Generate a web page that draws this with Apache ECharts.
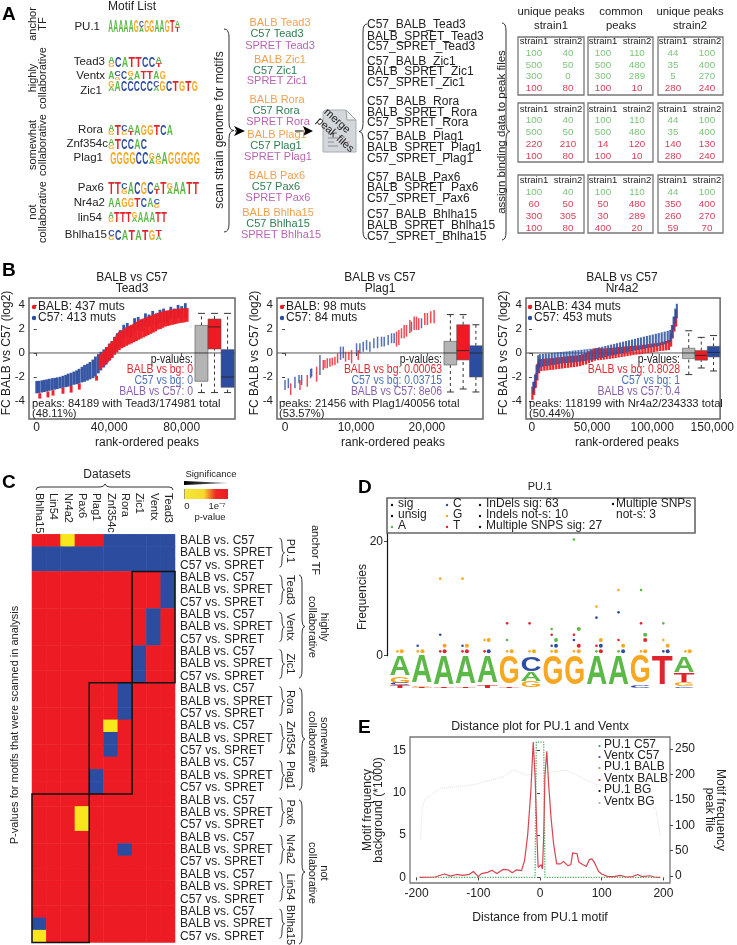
<!DOCTYPE html>
<html>
<head>
<meta charset="utf-8">
<title>Motif figure</title>
<script src="https://cdn.jsdelivr.net/npm/echarts@6/dist/echarts.min.js"></script>
<style>
  html, body { margin: 0; padding: 0; background: #fff; }
  #chart { width: 737px; height: 945px; }
  #chart canvas { filter: blur(0.3px); }
</style>
</head>
<body>
<div id="chart"></div>
<script>
// ---- panel A
const motifNames = ['PU.1', 'Tead3', 'Ventx', 'Zic1', 'Rora', 'Znf354c', 'Plag1', 'Pax6', 'Nr4a2', 'lin54', 'Bhlha15'];
const motifTop = ['AAAAAGCGGAAGTA', 'ACATTCCA', 'ACCGATTAG', 'GACCCCCCGCTGTG', 'ATCAAGGTCA', 'ATCCAC', 'GGGGCCGAAGGGGG', 'TTCACGCATGAATT', 'AAGGTCAC', 'ATTTGAAATT', 'CCATATGT'];
const motifLow = ['......A......T', 'G......T', '.G.A.....', 'A......A......', 'G.GT......', 'G.....', '......AG......', '..G....T.A....', '.......G', 'G...A.....', 'G......A'];
const strainLabels = ['Tead3', 'Zic1', 'Rora', 'Plag1', 'Pax6', 'Bhlha15'];
const tableHeads = ['unique peaks\nstrain1', 'common\npeaks', 'unique peaks\nstrain2'];
const peakTables = [
  [[[100, 40], [500, 50], [300, 0], [100, 80]], [[100, 110], [500, 480], [300, 289], [100, 10]], [[44, 100], [35, 400], [5, 270], [280, 240]]],
  [[[100, 40], [500, 50], [220, 210], [100, 80]], [[100, 110], [500, 480], [14, 120], [100, 10]], [[44, 100], [35, 400], [140, 130], [280, 240]]],
  [[[100, 40], [60, 50], [300, 305], [100, 80]], [[100, 110], [50, 480], [30, 289], [400, 20]], [[44, 100], [350, 400], [260, 270], [59, 70]]]
];
const tableColours = ['gggr', 'ggrr', 'grrr'];

// ---- panel B, x in thousands of peaks
const tead3BlueX = [0, 1.2, 2.8, 4.2, 5.5, 7, 8.6, 10, 11.4, 13, 14.5, 16, 17.4, 19, 20.5, 22, 23.4, 25, 26.4, 28, 29.4, 31, 32.4, 34, 35.4, 37, 38.4, 40, 41.5, 43, 44.5, 46, 48, 50, 52, 54, 56, 58, 60, 62, 64, 66, 68, 70, 72, 74, 76, 78, 80, 82];
const tead3BlueLo = [-3.36, -3.33, -3.3, -3.25, -3.2, -3.15, -3.1, -3.05, -3, -2.95, -2.9, -2.85, -2.8, -2.75, -2.65, -2.6, -2.55, -2.45, -2.4, -2.3, -2.2, -2.1, -1.95, -1.7, -1.45, -1.2, -.95, -.65, -.4, -.05, .3, .55, 1.2, 1.4, 1.3, 1.8, 1.9, 1.8, 2.2, 2.2, 2.4, 2.3, 2.5, 2.6, 2.5, 2.8, 2.7, 2.9, 2.9, 3];
const tead3BlueHi = [-2.33, -2.32, -2.28, -2.24, -2.2, -2.15, -2.1, -2.07, -2.03, -1.98, -1.9, -1.82, -1.72, -1.65, -1.55, -1.45, -1.32, -1.15, -1, -.9, -.75, -.55, -.3, -.1, .1, .3, .5, .75, 1, 1.35, 1.65, 1.9, 2.35, 2.5, 2.3, 2.9, 3, 2.8, 3.3, 3.2, 3.5, 3.3, 3.6, 3.7, 3.5, 3.85, 3.7, 4, 3.9, 4.15];
const tead3RedX = [1.7, 6.2, 9, 14.5, 19, 23.5, 33, 35, 36.3, 37.6, 39, 40.3, 41.6, 43, 44.3, 45.6, 47, 48.3, 49.6, 51, 52.3, 53.6, 55, 56.3, 57.6, 59, 60.3, 61.6, 63, 64.3, 65.6, 67, 68.3, 69.6, 71, 72.3, 73.6, 75, 76.3, 77.6, 79, 80.3, 81.6, 83];
const tead3RedLo = [-3.8, -3.7, -3.55, -3.4, -3.3, -3.05, -2.3, -1.35, -1.2, -1, -.8, -.6, -.4, -.15, .05, .25, .4, .5, .6, .7, .8, .9, 1, 1.1, 1.2, 1.3, 1.4, 1.5, 1.6, 1.7, 1.8, 1.95, 2, 2.1, 2.2, 2.25, 2.3, 2.35, 2.4, 2.45, 2.5, 2.52, 2.55, 2.6];
const tead3RedHi = [-3.35, -3.2, -3.1, -2.9, -2.75, -2.55, -1.9, -.1, .05, .2, .5, .8, 1, 1.3, 1.5, 1.75, 1.9, 2.05, 2.15, 2.25, 2.35, 2.45, 2.6, 2.7, 2.8, 2.88, 2.95, 3.02, 3.1, 3.18, 3.25, 3.35, 3.42, 3.47, 3.52, 3.55, 3.6, 3.62, 3.65, 3.67, 3.7, 3.72, 3.73, 3.75];

const plag1BlueX = [0, .47, 1.4, 1.97, 2.34, 3.61, 3.75, 4.92, 7.83, 8.21, 10.08, 10.55, 11.02, 11.49, 11.96, 12.52, 13.04, 13.6, 13.98, 14.54, 15.01, 15.38, 17.82, 19.23];
const plag1BlueLo = [-3.08, -2.94, -2.94, -2.53, -2.67, -2.11, -1.97, -1.83, -.58, -.44, -.17, -.03, .11, .25, .11, .39, .39, .53, .53, .67, .81, .81, 1.78, 2.06];
const plag1BlueHi = [-2.25, -2.11, -1.97, -1.83, -1.83, -1.33, -1.28, -.17, .53, .53, .81, .81, .94, 1.08, .94, 1.22, 1.36, 1.36, 1.36, 1.5, 1.64, 1.64, 2.61, 2.89];
const plag1RedX = [.8, 2.11, 3.14, 4.45, 5.39, 5.63, 5.95, 6.33, 6.66, 7.03, 7.41, 8.53, 9, 9.38, 10.32, 15.71, 16.04, 16.41, 16.79, 17.12, 17.59, 18.2, 18.53, 18.85, 19.7, 20.07, 20.54, 21.01];
const plag1RedLo = [-3.5, -3.08, -2.81, -2.39, -1.42, -1.28, -1.28, -1.14, -1.05, -1, -.86, -.72, -.58, -.86, -.58, .53, .67, 1.22, 1.22, 1.36, 1.64, 1.92, 1.92, 1.92, 2.33, 2.33, 2.47, 2.47];
const plag1RedHi = [-2.53, -2.25, -1.83, -1.14, -.58, -.58, -.44, -.44, -.39, -.31, -.03, .11, .11, .25, .25, 1.78, 1.92, 2.06, 2.33, 2.33, 2.75, 3.03, 3.03, 2.89, 3.33, 3.33, 3.47, 3.58];

const nr4a2BlueX = [1.1, 2.5, 3.8, 5.2, 6.6, 9.1, 11.5, 14, 16.5, 18.9, 21.4, 23.9, 26.4, 28.8, 31.3, 33.8, 36.2, 38.7, 41.2, 43.7, 46.1, 48.6, 51.1, 53.5, 56, 58.5, 61, 63.4, 65.9, 68.4, 70.8, 73.3, 75.8, 78.3, 80.7, 83.2, 85.7, 88.2, 90.6, 93.1, 95.6, 98, 100.5, 103, 105.4, 107.9, 110.4, 112.9, 115, 116.4, 117.8, 119.2, 120.5];
const nr4a2BlueLo = [-3.36, -2.94, -2.25, -1.6, -1.2, -1.15, -1.1, -1.06, -1.02, -.98, -.94, -.88, -.86, -.84, -.82, -.8, -.78, -.74, -.72, -.68, -.64, -.6, -.56, -.5, -.44, -.4, -.34, -.28, -.22, -.18, -.12, -.06, -.02, .04, .1, .14, .2, .24, .3, .34, .4, .44, .48, .53, .58, .64, .72, .8, .94, 1.22, 1.92, 2.47, 2.89];
const nr4a2BlueHi = [-2.4, -1.83, -1, -.2, -.1, -.08, -.05, -.03, 0, .03, .06, .08, .11, .13, .16, .19, .22, .24, .27, .3, .32, .35, .38, .42, .48, .52, .58, .64, .7, .76, .82, .88, .94, 1, 1.06, 1.12, 1.18, 1.24, 1.3, 1.36, 1.42, 1.48, 1.54, 1.6, 1.66, 1.72, 1.78, 1.85, 1.92, 2.33, 3.03, 3.7, 4.1];
const nr4a2RedX = [.4, 1.8, 3.2, 4.5, 5.9, 7.8, 10.3, 12.8, 15.3, 17.7, 20.2, 22.7, 25.1, 27.6, 30.1, 32.6, 35, 37.5, 40, 42.4, 44.9, 47.4, 49.9, 52.3, 54.8, 57.3, 59.7, 62.2, 64.7, 67.2, 69.6, 72.1, 74.6, 77, 79.5, 82, 84.4, 86.9, 89.4, 91.9, 94.3, 96.8, 99.3, 101.7, 104.2, 106.7, 109.2, 111.6, 113.9, 115.7, 117.1, 118.5, 119.9];
const nr4a2RedLo = [-3.9, -3.5, -2.9, -2.3, -1.7, -1.5, -1.48, -1.45, -1.42, -1.4, -1.36, -1.33, -1.3, -1.26, -1.24, -1.2, -1.18, -1.14, -1.1, -1.02, -.96, -.85, -.75, -.65, -.6, -.58, -.56, -.52, -.5, -.46, -.42, -.38, -.34, -.3, -.26, -.22, -.18, -.14, -.12, -.08, -.03, 0, .03, .08, .12, .16, .18, .22, .25, .53, 1.22, 1.78, 2.2];
const nr4a2RedHi = [-2.8, -2.4, -1.7, -.9, -.55, -.5, -.48, -.45, -.44, -.42, -.38, -.36, -.33, -.3, -.27, -.24, -.22, -.2, -.17, -.1, 0, .15, .28, .38, .42, .4, .38, .39, .42, .44, .46, .5, .52, .54, .56, .58, .6, .62, .64, .68, .7, .74, .78, .8, .84, .88, .94, 1, 1.08, 1.64, 2.33, 3.03, 3.58];

// x, whisker low, q1, median, q3, whisker high (grey, red, blue)
const tead3Boxes = [[90.9, -3.3, -2.36, 0, 2.3, 3.3], [98.1, -3.3, .33, 2.17, 2.83, 3.3], [105.3, -3.3, -2.86, -2, .28, 3.3]];
const plag1Boxes = [[23.3, -3.25, -1, 0, .97, 3.2], [25.1, -3, -.58, .2, 2.35, 3.2], [26.9, -3.25, -2, 0, .6, 2.35]];
const nr4a2Boxes = [[130.4, -1.8, -.47, 0, .4, 1.85], [140.8, -1.25, -.6, -.2, .2, 1.3], [151, -1.5, -.33, .05, .55, 1.45]];
const bTicksY = [-4, -2, 0, 2, 4];
const tead3TicksX = [0, 40, 80];
const plag1TicksX = [0, 10, 20];
const nr4a2TicksX = [0, 50, 100, 150];

// ---- panel C
const heatColumns = ['Bhlha15', 'Lin54', 'Nr4a2', 'Pax6', 'Plag1', 'Znf354c', 'Rora', 'Zic1', 'Ventx', 'Tead3'];
const heatPairs = ['BALB vs. C57', 'BALB vs. SPRET', 'C57 vs. SPRET'];
const heatMotifs = ['PU.1', 'Tead3', 'Ventx', 'Zic1', 'Rora', 'Znf354', 'Plag1', 'Pax6', 'Nr4a2', 'Lin54', 'Bhlha15'];
// 0 red, 1 blue, 2 yellow
const heatRows = [
  '0020011111', '1111111111', '1111111111',
  '0000000001', '0000000001', '0000000001',
  '0000000010', '0000000010', '0000000010',
  '0000000100', '0000000100', '0000000100',
  '0000001000', '0000001000', '0000001000',
  '0000020000', '0000010000', '0000010000',
  '0000000000', '0000100000', '0000100000',
  '0000000000', '0002000000', '0002000000',
  '0000000000', '0000001000', '0000000000',
  '0000000000', '0000000000', '0000000000',
  '0000000000', '1000000000', '2000000000'
];
// first col, last col, first row, last row
const heatGroups = [[7, 9, 3, 11], [4, 6, 12, 20], [0, 3, 21, 32]];

// ---- panel D
const logoLetters = ['AGCT', 'AGT', 'AT', 'AT', 'AT', 'GT', 'CAG', 'G', 'G', 'A', 'A', 'GC', 'T', 'ATGC'];
const logoHeights = [[1.3, .4, .15, .15], [1.85, .1, .05], [1.95, .05], [1.9, .1], [1.8, .2], [1.9, .1], [1, .6, .4], [2], [2], [2], [2], [1.85, .15], [2], [1.05, .6, .25, .1]];
const smallA = [[5.9, 2.75], [7.94, 4.68], [8.96, 20.35], [9.99, .76], [11, .76], [12.03, 11.52], [13.05, 5.67]];
const smallC = [[1.81, 1.75], [2.84, 3.68], [3.86, 1.75], [7.94, 1.75], [8.96, 2.75], [9.99, 6.67], [11, 7.6], [13.05, .76]];
const smallG = [[.88, .76], [1.81, .76], [2.84, 13.5], [3.86, 13.5], [4.87, 2.75], [5.9, .76], [6.93, .76], [7.94, .76], [8.96, .76], [9.99, 8.6], [11, 11.52], [12.03, .76], [13.05, 2.75], [14.06, .76]];
const smallT = [[2.84, .76], [3.86, .76], [4.87, .76], [5.9, 5.67], [6.93, 5.67], [7.94, 3.68], [8.96, 3.68], [9.99, 1.75], [11, 2.75], [12.03, 5.67]];
const largeA = [[8.14, 2.75], [9.18, 4.68], [12.22, 3.68]];
const largeC = [[5.06, .76], [8.14, 1.75], [10.19, 1.75], [11.21, .76], [13.25, .76]];
const largeG = [[1.08, .76], [2.03, .76], [3.04, 1.75], [4.06, 1.75], [5.06, 2.75], [6.11, .76], [7.13, .76], [8.14, .76], [9.18, .76], [10.19, 2.75], [11.21, 1.75], [12.22, .76], [13.25, 1.75], [14.26, .76]];
const largeT = [[3.04, .76], [4.06, .76], [9.18, 1.75], [10.19, .76], [12.22, 2.75]];

// ---- panel E
const ventxBalbX = [-195, -170, -155, -145, -135, -125, -115, -108, -100, -95, -85, -78, -70, -60, -52, -45, -38, -30, -25, -20, -15, -11, -8, -5, -3, -1, 0, 2, 4, 6, 8, 11, 14, 18, 22, 27, 33, 38, 45, 50, 53, 56, 60, 63, 70, 75, 80, 84, 88, 95, 100, 110, 120, 130, 140, 150, 158, 165, 178, 185, 195];
const ventxBalbY = [0, .05, .4, .15, .35, .25, .35, .7, .1, .45, .6, .85, .45, .95, .9, .55, .9, .8, 2, 5, 10, 16, 12, 5, 1.2, 1.4, 1.1, 1.5, 1, 5, 12, 14.9, 11, 7, 4, 1.6, 1.6, 1.9, 1.4, 1.5, 2.9, 2.7, 2.8, 1.8, 1.5, 1.3, 2.1, 2.2, 1.8, .7, .4, .1, .1, .25, .05, .1, .35, .1, .2, .05, 0];
const pu1X = [-195, -100, -8, -6, 6, 8, 100, 195];
const pu1Y = [0, 0, 0, 16, 16, 0, 0, 0];
const bgX = [-193.5, -191, -187, -161, -134, -107.5, -80.6, -59, -43, -21.5, 43, 64.5, 86, 113, 134, 161, 188, 195];
const bgY = [4.4, 8, 9.2, 10.55, 10.75, 10.95, 11.5, 11.9, 12.7, 12.1, 12.7, 11.9, 11.1, 10.55, 10.2, 9.6, 8, 4.8];
const eTicksX = [-200, -100, 0, 100, 200];
const eTicksLeft = [0, 5, 10, 15];
const eTicksRight = [0, 50, 100, 150, 200, 250];
const eLegend = ['PU.1 C57', 'Ventx C57', 'PU.1 BALB', 'Ventx BALB', 'PU.1 BG', 'Ventx BG'];

const FONT = '"Liberation Sans", Arial, sans-serif';
const RED = '#ed1c24', BLUE = '#2c4d9f', YELLOW = '#f8e71c';
const INK = '#222222';
const baseColour = { A: '#5cb947', C: '#2f4ea1', G: '#f7a823', T: '#e0242b' };
const baseWidth = { A: .722, C: .722, G: .778, T: .611 };
const g = [];

function text(str, x, y, size, opts) {
  const o = opts || {};
  g.push({
    type: 'text', x: x, y: y, z: 50, silent: true,
    rotation: (o.rot || 0) * Math.PI / 180,
    scaleX: o.sx || 1,
    style: {
      text: str, x: 0, y: 0,
      font: (o.bold ? 'bold ' : '') + size + 'px ' + FONT,
      fill: o.color || INK,
      textAlign: o.align || 'left',
      textVerticalAlign: 'middle',
      lineHeight: o.line || size
    }
  });
}
function rect(x, y, w, h, fill, stroke, lw) {
  g.push({ type: 'rect', z: 40, silent: true, shape: { x: x, y: y, width: w, height: h }, style: { fill: fill || 'none', stroke: stroke || 'none', lineWidth: lw || 1 } });
}
function dot(x, y, r, fill) {
  g.push({ type: 'circle', z: 50, silent: true, shape: { cx: x, cy: y, r: r }, style: { fill: fill } });
}
function seg(x1, y1, x2, y2, stroke, lw) {
  g.push({ type: 'line', z: 45, silent: true, shape: { x1: x1, y1: y1, x2: x2, y2: y2 }, style: { stroke: stroke || '#333', lineWidth: lw || 1 } });
}
function curve(x1, y1, cx, cy, x2, y2) {
  g.push({ type: 'bezierCurve', z: 45, silent: true, shape: { x1: x1, y1: y1, cpx1: cx, cpy1: cy, x2: x2, y2: y2 }, style: { stroke: '#333', lineWidth: 1, fill: 'none' } });
}
function poly(points, fill, stroke) {
  g.push({ type: 'polygon', z: 44, silent: true, shape: { points: points }, style: { fill: fill, stroke: stroke || 'none', lineWidth: 1 } });
}
// dir +1 tip to the right, -1 tip to the left
function brace(x, y0, y1, dir, w) {
  const m = (y0 + y1) / 2, r = Math.min(8, (y1 - y0) / 4);
  curve(x - dir * w, y0, x, y0, x, y0 + r);
  seg(x, y0 + r, x, m - r);
  curve(x, m - r, x, m, x + dir * w, m);
  curve(x + dir * w, m, x, m, x, m + r);
  seg(x, m + r, x, y1 - r);
  curve(x, y1 - r, x, y1, x - dir * w, y1);
}
function logoLetter(ch, cx, top, bottom, colW) {
  const F = 20, h = bottom - top;
  g.push({
    type: 'text', x: cx, y: (top + bottom) / 2, z: 44, silent: true,
    scaleX: colW / (baseWidth[ch] * F), scaleY: h / (.729 * F),
    style: { text: ch, x: 0, y: 0, font: 'bold ' + F + 'px ' + FONT, fill: baseColour[ch], textAlign: 'center', textVerticalAlign: 'middle' }
  });
}

// panel letters
text('A', 2, 15, 19, { bold: true, color: '#000' });
text('B', 2, 271, 19, { bold: true, color: '#000' });
text('C', 2, 483, 19, { bold: true, color: '#000' });
text('D', 358, 488, 19, { bold: true, color: '#000' });
text('E', 358, 728, 19, { bold: true, color: '#000' });

// ---- A: motif list
text('Motif List', 108, 7, 12);
const logoBoxes = [[108, 180, 21, 33, 100, 27], [108, 162, 57, 68, 105, 62], [108, 166, 72, 80, 105, 76], [108, 198, 81, 92, 102, 91], [108, 173, 125, 136, 103, 130], [108, 147, 139, 150, 108, 144], [110, 200, 153, 165, 103, 158], [108, 199, 183, 195, 104, 188], [108, 160, 199, 208, 105, 203], [108, 167, 212, 223, 102, 218], [108, 162, 230, 241, 107, 235]];
motifNames.forEach(function (name, i) {
  const b = logoBoxes[i], seq = motifTop[i], low = motifLow[i];
  text(name, b[4], b[5], 11.5, { align: 'right' });
  const w = (b[1] - b[0]) / seq.length;
  for (let k = 0; k < seq.length; k++) {
    const cx = b[0] + w * (k + .5);
    if (low[k] && low[k] !== '.') {
      const split = b[2] + (b[3] - b[2]) * .6;
      logoLetter(seq[k], cx, b[2], split, w * .95);
      logoLetter(low[k], cx, split, b[3], w * .95);
    } else {
      logoLetter(seq[k], cx, b[2], b[3], w * .95);
    }
  }
});
[['anchor\nTF', 24], ['highly\ncollaborative', 78], ['somewhat\ncollaborative', 145], ['not\ncollaborative', 212]].forEach(function (r) {
  text(r[0], 38, r[1], 11, { rot: 90, align: 'center', line: 10.5 });
});

text('scan strain genome for motifs', 220, 130, 12, { rot: 90, align: 'center' });
brace(229, 29, 232, 1, 5);
seg(235, 131, 240, 131, '#000', 1);
poly([[234, 126], [245, 131], [234, 136], [237, 131]], '#000');
seg(295, 131, 304, 131, '#000', 1);
poly([[303, 126], [313, 131], [303, 136], [305, 131]], '#000');

const strainRows = [[23, 34, 46], [60, 71, 81], [100, 111, 122], [135, 146, 157], [176, 187, 198], [213, 224, 235]];
const strainX = [[280, 277, 280], [280, 275, 277], [277, 276, 278], [277, 276, 278], [277, 276, 278], [278, 278, 281]];
const peakRows = [[25, 37, 47], [62, 72, 83], [102, 113, 123], [137, 148, 159], [178, 188, 199], [215, 226, 237]];
strainLabels.forEach(function (m, i) {
  text('BALB ' + m, strainX[i][0], strainRows[i][0], 11, { align: 'center', color: '#f0a04e' });
  text('C57 ' + m, strainX[i][1], strainRows[i][1], 11, { align: 'center', color: '#2f7d50' });
  text('SPRET ' + m, strainX[i][2], strainRows[i][2], 11, { align: 'center', color: '#b866b4' });
  text('C57_BALB_' + m, 367, peakRows[i][0], 12);
  text('BALB_SPRET_' + m, 367, peakRows[i][1], 12);
  text('C57_SPRET_' + m, 367, peakRows[i][2], 12);
});

// peak file icon
poly([[325, 110], [346, 110], [356, 120], [356, 152], [323, 152], [323, 112]], '#d3d7db', '#a8adb3');
poly([[346, 110], [347, 120], [356, 120]], '#eef0f2', '#9aa0a6');
seg(328, 134, 334, 134, '#8a8f95'); seg(328, 138, 338, 138, '#8a8f95'); seg(328, 142, 334, 142, '#8a8f95');
seg(340, 142, 350, 142, '#c9a0a0'); seg(328, 146, 338, 146, '#8a8f95');
text('merge', 337, 121, 11, { rot: -42, align: 'center' });
text('peak files', 335, 135, 11, { rot: -42, align: 'center' });

brace(363, 24, 239, -1, 4);
text('assign binding data to peak files', 502, 132, 11.5, { rot: 90, align: 'center' });
brace(506, 23, 240, 1, 4);

const colX = [518, 588, 658], colTextX = [[534, 568], [603, 637], [673, 707]], colW = [66, 65, 65];
const rowY = [37, 103, 175], rowTextY = [[41, 53, 65, 76, 88], [109, 120, 132, 144, 156], [180, 192, 204, 216, 228]], rowH = [58, 59, 58];
[551, 621, 690].forEach(function (x, i) {
  text(tableHeads[i], x, 19, 11.3, { align: 'center', line: 14.5 });
});
peakTables.forEach(function (tables, r) {
  tables.forEach(function (cells, c) {
    rect(colX[c], rowY[r], colW[c], rowH[r], 'none', '#777', 1.3);
    text('strain1', colTextX[c][0], rowTextY[r][0], 9.5, { align: 'center' });
    text('strain2', colTextX[c][1], rowTextY[r][0], 9.5, { align: 'center' });
    cells.forEach(function (pair, k) {
      const col = tableColours[r][k] === 'g' ? '#7cc47a' : '#d9405a';
      text(String(pair[0]), colTextX[c][0], rowTextY[r][k + 1], 9.8, { align: 'center', color: col });
      text(String(pair[1]), colTextX[c][1], rowTextY[r][k + 1], 9.8, { align: 'center', color: col });
    });
  });
});

// ---- B texts
const P_RED = '#dd2a33', P_BLUE = '#4b72b6', P_PURPLE = '#8a5fb0';
[
  { title: 'Tead3', tx: 132, yl: 7, dot: 34, leg: ['BALB: 437 muts', 'C57: 413 muts'], pr: 193, pv: ['0', '0', '0'], left: 32, peaks: 'peaks: 84189 with Tead3/174981 total\n(48.11%)', rx: 147 },
  { title: 'Plag1', tx: 380, yl: 255, dot: 282, leg: ['BALB: 98 muts', 'C57: 84 muts'], pr: 442, pv: ['0.00063', '0.03715', '8e06'], left: 279, peaks: 'peaks: 21456 with Plag1/40056 total\n(53.57%)', rx: 393 },
  { title: 'Nr4a2', tx: 622, yl: 504, dot: 530, leg: ['BALB: 434 muts', 'C57: 453 muts'], pr: 680, pv: ['0.8028', '1', '0.4'], left: 529, peaks: 'peaks: 118199 with Nr4a2/234333 total\n(50.44%)', rx: 627 }
].forEach(function (p) {
  text('BALB vs C57\n' + p.title, p.tx, 283.5, 12, { align: 'center', line: 11 });
  text('FC BALB vs C57 (log2)', p.yl, 353, 12, { rot: 90, align: 'center' });
  dot(p.dot, 307, 2.2, RED);
  dot(p.dot, 318, 2.2, BLUE);
  text(p.leg[0], p.dot + 4, 307, 12);
  text(p.leg[1], p.dot + 4, 318, 12);
  // the p-value lines are squeezed sideways in the figure
  text('p-values:', p.pr, 360, 12, { align: 'right', sx: .87 });
  text('BALB vs bg: ' + p.pv[0], p.pr, 370, 12, { align: 'right', color: P_RED, sx: .87 });
  text('C57 vs bg: ' + p.pv[1], p.pr, 381, 12, { align: 'right', color: P_BLUE, sx: .87 });
  text('BALB vs C57: ' + p.pv[2], p.pr, 392, 12, { align: 'right', color: P_PURPLE, sx: .87 });
  text(p.peaks, p.left, 409, 11.2, { line: 10 });
  text('rank-ordered peaks', p.rx, 442.5, 12, { align: 'center' });
});

// ---- C texts and decoration
text('Datasets', 107, 475, 12, { align: 'center' });
curve(36, 490, 36, 487, 40, 487); seg(40, 487, 100, 487); curve(100, 487, 104, 487, 105, 484);
curve(105, 484, 106, 487, 110, 487); seg(110, 487, 169, 487); curve(169, 487, 173, 487, 173, 490);
heatColumns.forEach(function (name, i) {
  text(name, 32 + 14.3 * (i + .5), 493, 11, { rot: -90 });
});
text('Significance', 211, 474, 9.5, { align: 'center' });
poly([[184, 481], [228, 483], [184, 485]], new echarts.graphic.LinearGradient(0, 0, 1, 0, [{ offset: 0, color: '#000' }, { offset: 1, color: '#888' }]));
g.push({ type: 'rect', z: 40, silent: true, shape: { x: 184, y: 489, width: 44, height: 10 }, style: { fill: new echarts.graphic.LinearGradient(0, 0, 1, 0, [{ offset: 0, color: '#777' }, { offset: .03, color: '#f4e838' }, { offset: .45, color: '#f6d92c' }, { offset: .72, color: '#ee2a24' }, { offset: 1, color: RED }]) } });
text('0', 187, 506, 9.5, { align: 'center' });
text('1e⁻⁷', 217, 506, 9.5, { align: 'center' });
text('p-value', 210, 517, 9.5, { align: 'center' });
text('P-values for motifs that were scanned in analysis', 15, 725, 11, { rot: 90, align: 'center' });
const motifY = [551, 590, 627, 664, 702, 738, 775, 812, 849, 887, 925];
heatMotifs.forEach(function (m, i) {
  text(m, 290, motifY[i], 11, { rot: -90, align: 'center' });
  const top = 534.3 + i * 37.1;
  brace(282, top + 4, top + 33, 1, 2.5);
});
text('anchor TF', 315, 550, 11, { rot: -90, align: 'center' });
brace(302, 575, 678, 1, 3);
text('highly\ncollaborative', 318, 627, 11, { rot: -90, align: 'center', line: 11.5 });
brace(302, 688, 790, 1, 3);
text('somewhat\ncollaborative', 318, 742, 11, { rot: -90, align: 'center', line: 11.5 });
brace(302, 800, 944, 1, 3);
text('not\ncollaborative', 318, 873, 11, { rot: -90, align: 'center', line: 11.5 });

// ---- D texts
text('PU.1', 540, 487, 11, { align: 'center' });
rect(387, 498, 308, 35, 'none', '#666', 1.6);
[['sig', '#111', 504], ['unsig', '#111', 515], ['A', baseColour.A, 526]].forEach(function (r) {
  dot(392, r[2] + 1, 1.2, r[1]); text(r[0], 398, r[2], 12);
});
[['C', baseColour.C, 504], ['G', baseColour.G, 515], ['T', baseColour.T, 526]].forEach(function (r) {
  dot(447, r[2] + 1, 1.2, r[1]); text(r[0], 453, r[2], 12);
});
[['InDels sig: 63', 504], ['Indels not-s: 10', 515], ['Multiple SNPS sig: 27', 526]].forEach(function (r) {
  dot(480, r[1] + 1, 1.2, '#111'); text(r[0], 486, r[1], 12);
});
dot(613, 504, 1.2, '#111');
text('Multiple SNPs\nnot-s: 3', 616, 509.5, 12, { line: 11 });
text('Frequencies', 363, 597, 12, { rot: 90, align: 'center' });

// ---- E texts
text('Distance plot for PU.1 and Ventx', 540, 727, 12.3, { align: 'center' });
text('Distance from PU.1 motif', 540, 918, 12.2, { align: 'center' });
text('Motif frequency\nbackground (*1000)', 373, 810, 12, { rot: 90, align: 'center', line: 10.5 });
text('Motif frequency\npeak file', 715, 810, 12, { rot: -90, align: 'center', line: 10.5 });
const eLegendY = [745, 756, 767, 779, 790, 802];
const eLegendCol = ['#3d9b5a', '#3a4f9e', '#5cb947', '#d9302c', '#111', '#aaa'];
eLegend.forEach(function (name, i) {
  dot(599.5, eLegendY[i] + 1, 1.1, eLegendCol[i]);
  text(name, 604, eLegendY[i], 12);
});

// ---- chart parts
function zip(a, b, c) { return a.map(function (v, i) { return [v, b[i], c[i]]; }); }
function thousands(v) { return v ? v + ',000' : '0'; }
function segments(ax, rows, colour, width, opacity) {
  return {
    type: 'custom', xAxisIndex: ax, yAxisIndex: ax, data: rows, silent: true, z: 3,
    renderItem: function (params, api) {
      const a = api.coord([api.value(0), api.value(1)]);
      const b = api.coord([api.value(0), api.value(2)]);
      return { type: 'line', shape: { x1: a[0], y1: a[1], x2: b[0], y2: b[1] }, style: { stroke: colour, lineWidth: width, opacity: opacity } };
    }
  };
}
function boxes(ax, rows, width) {
  const fills = ['#b4b4b4', RED, BLUE];
  return {
    type: 'custom', xAxisIndex: ax, yAxisIndex: ax, data: rows, silent: true, z: 4,
    renderItem: function (params, api) {
      const cx = api.coord([api.value(0), 0])[0];
      const y = function (i) { return api.coord([api.value(0), api.value(i)])[1]; };
      const dark = { stroke: '#333', lineWidth: 1 };
      const dash = { stroke: '#333', lineWidth: 1, lineDash: [3, 3] };
      const L = function (x1, y1, x2, y2, st) { return { type: 'line', shape: { x1: x1, y1: y1, x2: x2, y2: y2 }, style: st }; };
      return {
        type: 'group',
        children: [
          L(cx, y(1), cx, y(2), dash), L(cx, y(4), cx, y(5), dash),
          L(cx - 3.5, y(1), cx + 3.5, y(1), dark), L(cx - 3.5, y(5), cx + 3.5, y(5), dark),
          { type: 'rect', shape: { x: cx - width / 2, y: y(4), width: width, height: y(2) - y(4) }, style: { fill: fills[params.dataIndex], stroke: '#555', lineWidth: .6 } },
          L(cx - width / 2, y(3), cx + width / 2, y(3), { stroke: '#222', lineWidth: .8 })
        ]
      };
    }
  };
}
function zeroLine(ax, xMin, xMax) {
  return { type: 'line', xAxisIndex: ax, yAxisIndex: ax, data: [[xMin, 0], [xMax, 0]], showSymbol: false, silent: true, z: 2, lineStyle: { color: '#555', width: 1 } };
}
function valueAxis(grid, min, max, ticks, extra) {
  return Object.assign({
    type: 'value', gridIndex: grid, min: min, max: max, splitLine: { show: false },
    axisLine: { show: false },
    axisTick: { show: true, length: 3, customValues: ticks, lineStyle: { color: '#444' } },
    axisLabel: { customValues: ticks, fontFamily: FONT, fontSize: 11.5, color: INK, margin: 4 }
  }, extra || {});
}
function hiddenAxis(grid, min, max) {
  return { type: 'value', gridIndex: grid, min: min, max: max, show: false };
}

// heatmap rows and cells
const heatY = [];
heatMotifs.forEach(function () { heatPairs.forEach(function (p) { heatY.push(p); }); });
const heatColours = [RED, BLUE, YELLOW];
const heatData = [];
heatRows.forEach(function (row, r) {
  for (let c = 0; c < row.length; c++) {
    heatData.push({ value: [c, r, +row[c]], itemStyle: { color: heatColours[+row[c]] } });
  }
});

// logo rows: position, bottom, top, letter
const logoRows = [];
logoLetters.forEach(function (letters, i) {
  let top = 2;
  letters.split('').forEach(function (ch, k) {
    logoRows.push([i + 1, top - logoHeights[i][k], top, ch]);
    top -= logoHeights[i][k];
  });
});

function scatter(rows, colour, size) {
  return { type: 'scatter', xAxisIndex: 4, yAxisIndex: 4, data: rows, symbolSize: size, silent: true, itemStyle: { color: colour, opacity: 1 } };
}
function pairs(a, b) { return a.map(function (v, i) { return [v, b[i]]; }); }

const chart = echarts.init(document.getElementById('chart'), null, { renderer: 'canvas' });
chart.setOption({
  animation: false,
  backgroundColor: '#fff',
  graphic: { elements: g },
  grid: [
    { left: 29, top: 298, width: 206, height: 121, show: true, borderColor: '#666', borderWidth: 1.5 },
    { left: 277, top: 298, width: 206, height: 121, show: true, borderColor: '#666', borderWidth: 1.5 },
    { left: 526, top: 298, width: 196, height: 121, show: true, borderColor: '#666', borderWidth: 1.5 },
    { left: 32, top: 534.3, width: 143, height: 408.2 },
    { left: 387, top: 533, width: 308, height: 122.7 },
    { left: 387, top: 658, width: 308, height: 30 },
    { left: 410, top: 737, width: 260, height: 146, show: true, borderColor: '#777', borderWidth: 1.3 }
  ],
  xAxis: [
    valueAxis(0, -4.25, 109.4, tead3TicksX, { axisLabel: { customValues: tead3TicksX, formatter: thousands, fontFamily: FONT, fontSize: 12, color: INK, margin: 3 } }),
    valueAxis(1, -1.13, 27.9, plag1TicksX, { axisLabel: { customValues: plag1TicksX, formatter: thousands, fontFamily: FONT, fontSize: 12, color: INK, margin: 3 } }),
    valueAxis(2, -4.94, 156.5, nr4a2TicksX, { axisLabel: { customValues: nr4a2TicksX, formatter: thousands, fontFamily: FONT, fontSize: 12, color: INK, margin: 3 } }),
    {
      type: 'category', gridIndex: 3, position: 'top', data: heatColumns,
      axisLine: { show: false }, axisTick: { show: false }, splitLine: { show: false }, axisLabel: { show: false }
    },
    hiddenAxis(4, .405, 14.5),
    hiddenAxis(5, .405, 14.5),
    valueAxis(6, -210.7, 210.7, eTicksX, { axisLabel: { customValues: eTicksX, fontFamily: FONT, fontSize: 12, color: INK, margin: 5 } })
  ],
  yAxis: [
    valueAxis(0, -5.5, 4.58, bTicksY),
    valueAxis(1, -5.5, 4.58, bTicksY),
    valueAxis(2, -5.5, 4.58, bTicksY),
    {
      type: 'category', gridIndex: 3, position: 'right', inverse: true, data: heatY,
      axisLine: { show: false }, axisTick: { show: false }, splitLine: { show: false },
      axisLabel: { interval: 0, margin: 5, fontFamily: FONT, fontSize: 12, color: INK }
    },
    valueAxis(4, 0, 21.5, [0, 20], {
      axisLine: { show: true, lineStyle: { color: '#111', width: 1.2 } },
      axisLabel: { customValues: [0, 20], fontFamily: FONT, fontSize: 12, color: INK, margin: 4 }
    }),
    hiddenAxis(5, 0, 2),
    valueAxis(6, -.66, 16.6, eTicksLeft, { axisLabel: { customValues: eTicksLeft, fontFamily: FONT, fontSize: 12, color: INK, margin: 4 } }),
    valueAxis(6, -13.8, 274, eTicksRight, { position: 'right', axisLabel: { customValues: eTicksRight, fontFamily: FONT, fontSize: 12, color: INK, margin: 5 } })
  ],
  series: [
    zeroLine(0, -4.25, 109.4),
    zeroLine(1, -1.13, 27.9),
    zeroLine(2, -4.94, 156.5),
    segments(0, zip(tead3BlueX, tead3BlueLo, tead3BlueHi), BLUE, 2.8, .95),
    segments(0, zip(tead3RedX, tead3RedLo, tead3RedHi), RED, 2.9, .97),
    segments(1, zip(plag1BlueX, plag1BlueLo, plag1BlueHi), BLUE, 1.5, .8),
    segments(1, zip(plag1RedX, plag1RedLo, plag1RedHi), RED, 1.5, .8),
    segments(2, zip(nr4a2RedX, nr4a2RedLo, nr4a2RedHi), RED, 2.3, .95),
    segments(2, zip(nr4a2BlueX, nr4a2BlueLo, nr4a2BlueHi), BLUE, 2.1, .85),
    boxes(0, tead3Boxes, 13),
    boxes(1, plag1Boxes, 12.8),
    boxes(2, nr4a2Boxes, 12.4),
    { type: 'heatmap', xAxisIndex: 3, yAxisIndex: 3, data: heatData, silent: true, progressive: 0 },
    {
      type: 'custom', xAxisIndex: 3, yAxisIndex: 3, data: heatGroups, silent: true, z: 5,
      renderItem: function (params, api) {
        const band = api.size([1, 1]);
        const a = api.coord([api.value(0), api.value(2)]);
        const b = api.coord([api.value(1), api.value(3)]);
        return { type: 'rect', shape: { x: a[0] - band[0] / 2, y: a[1] - band[1] / 2, width: b[0] - a[0] + band[0], height: b[1] - a[1] + band[1] }, style: { fill: 'none', stroke: '#111', lineWidth: 1.5 } };
      }
    },
    scatter(smallA, baseColour.A, 2.6), scatter(smallC, baseColour.C, 2.6), scatter(smallG, baseColour.G, 2.6), scatter(smallT, baseColour.T, 2.6),
    scatter(largeA, baseColour.A, 4), scatter(largeC, baseColour.C, 4), scatter(largeG, baseColour.G, 4), scatter(largeT, baseColour.T, 4),
    {
      type: 'custom', xAxisIndex: 5, yAxisIndex: 5, silent: true, clip: false,
      data: logoRows.map(function (r) { return [r[0], r[1], r[2]]; }),
      renderItem: function (params, api) {
        const ch = logoRows[params.dataIndex][3];
        const F = 40;
        const top = api.coord([api.value(0), api.value(2)]);
        const bottom = api.coord([api.value(0), api.value(1)]);
        return {
          type: 'text', x: top[0], y: (top[1] + bottom[1]) / 2,
          scaleX: 21 / (baseWidth[ch] * F), scaleY: (bottom[1] - top[1]) / (.729 * F),
          style: { text: ch, x: 0, y: 0, font: 'bold ' + F + 'px ' + FONT, fill: baseColour[ch], textAlign: 'center', textVerticalAlign: 'middle' }
        };
      }
    },
    { type: 'line', xAxisIndex: 6, yAxisIndex: 6, data: pairs(bgX, bgY), showSymbol: false, silent: true, lineStyle: { color: '#e0e0e0', width: 1, type: 'dotted' } },
    { type: 'line', xAxisIndex: 6, yAxisIndex: 6, data: pairs(pu1X, pu1Y), showSymbol: false, silent: true, lineStyle: { color: '#4fb060', width: 1.3, type: 'dotted' } },
    { type: 'line', xAxisIndex: 6, yAxisIndex: 6, data: pairs(ventxBalbX, ventxBalbY), showSymbol: false, silent: true, lineStyle: { color: '#d8434f', width: 1.2 } }
  ]
});
</script>
</body>
</html>
